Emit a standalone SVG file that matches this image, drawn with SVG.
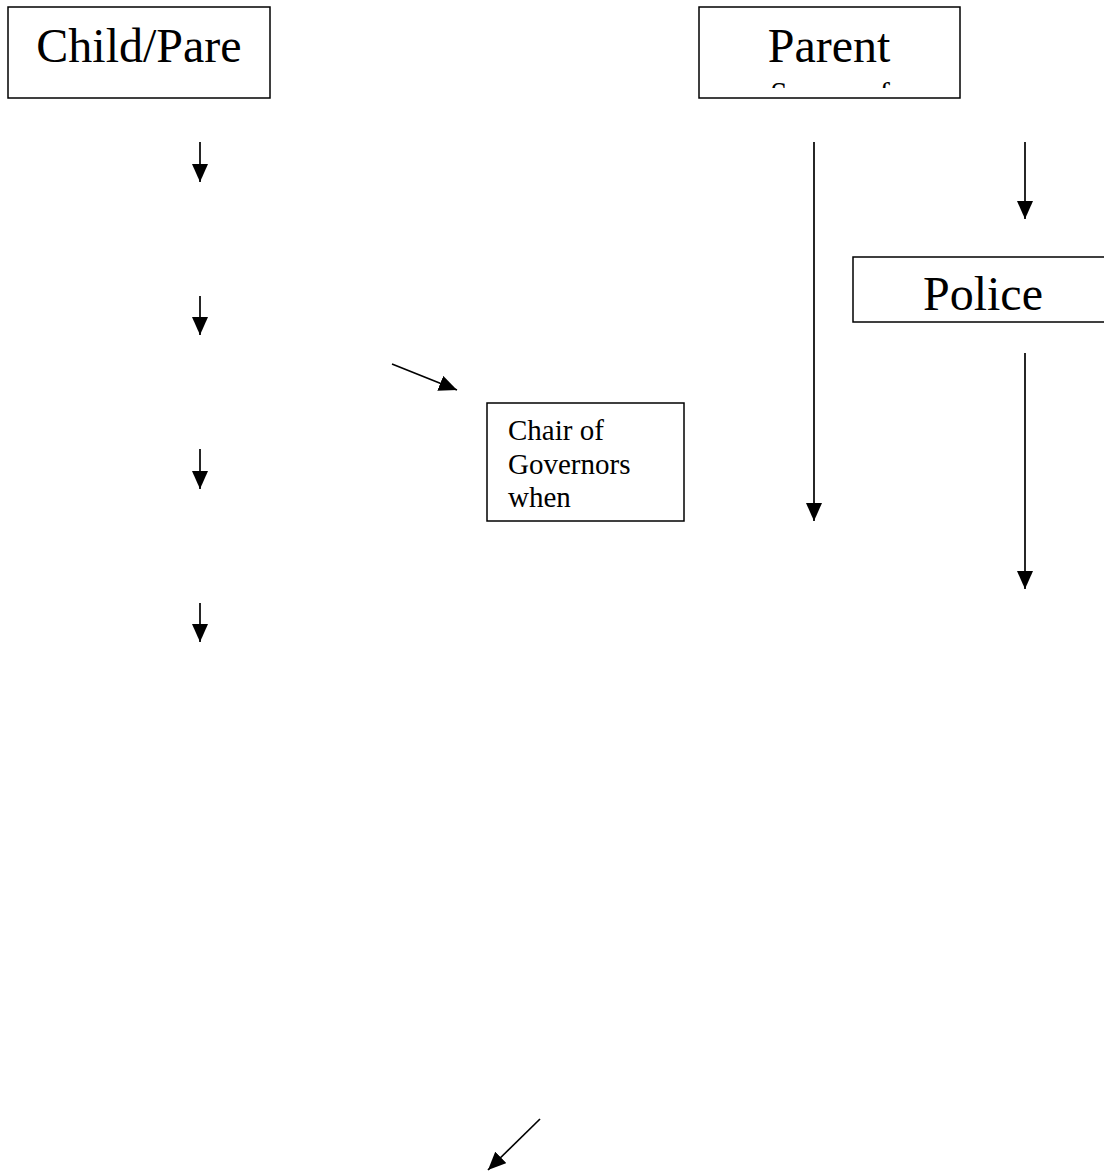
<svg xmlns="http://www.w3.org/2000/svg" width="1104" height="1173" viewBox="0 0 1104 1173">
<style>
.box{fill:#fff;stroke:#000;stroke-width:1.5}
.conn line{stroke:#000;stroke-width:1.7}
</style>
<defs>
<marker id="ah" markerUnits="userSpaceOnUse" markerWidth="18" markerHeight="16" viewBox="0 0 18 16" refX="18" refY="8" orient="auto">
<path d="M0,0 L18,8 L0,16 Z" fill="#000"/>
</marker>
<clipPath id="clipParent"><rect x="700" y="8" width="259" height="80"/></clipPath>
</defs>
<rect width="1104" height="1173" fill="#fff"/>
<g id="node-childpare">
<rect class="box" x="8" y="7" width="262" height="91"/>
<text x="139" y="62" text-anchor="middle" font-family="Liberation Serif, Times New Roman, serif" font-size="48">Child/Pare</text>
</g>
<g id="node-parent">
<rect class="box" x="699" y="7" width="261" height="91"/>
<g clip-path="url(#clipParent)">
<text x="829" y="62" text-anchor="middle" font-family="Liberation Serif, Times New Roman, serif" font-size="48">Parent</text>
<text x="830" y="104" text-anchor="middle" font-family="Liberation Serif, Times New Roman, serif" font-size="31">Source of</text>
</g>
</g>
<g id="node-police">
<rect class="box" x="853" y="257" width="260" height="65"/>
<text x="983" y="310" text-anchor="middle" font-family="Liberation Serif, Times New Roman, serif" font-size="48">Police</text>
</g>
<g id="node-chair">
<rect class="box" x="487" y="403" width="197" height="118"/>
<text x="508" y="440" font-family="Liberation Serif, Times New Roman, serif" font-size="29">Chair of</text>
<text x="508" y="474" font-family="Liberation Serif, Times New Roman, serif" font-size="29">Governors</text>
<text x="508" y="507" font-family="Liberation Serif, Times New Roman, serif" font-size="29">when</text>
</g>
<g id="connectors" class="conn">
<line x1="200" y1="142" x2="200" y2="182" marker-end="url(#ah)"/>
<line x1="200" y1="296" x2="200" y2="335" marker-end="url(#ah)"/>
<line x1="200" y1="449" x2="200" y2="489" marker-end="url(#ah)"/>
<line x1="200" y1="603" x2="200" y2="642" marker-end="url(#ah)"/>
<line x1="392" y1="364" x2="457" y2="390" marker-end="url(#ah)"/>
<line x1="814" y1="142" x2="814" y2="521" marker-end="url(#ah)"/>
<line x1="1025" y1="142" x2="1025" y2="219" marker-end="url(#ah)"/>
<line x1="1025" y1="353" x2="1025" y2="589" marker-end="url(#ah)"/>
<line x1="540" y1="1119" x2="488" y2="1170" marker-end="url(#ah)"/>
</g>
</svg>
